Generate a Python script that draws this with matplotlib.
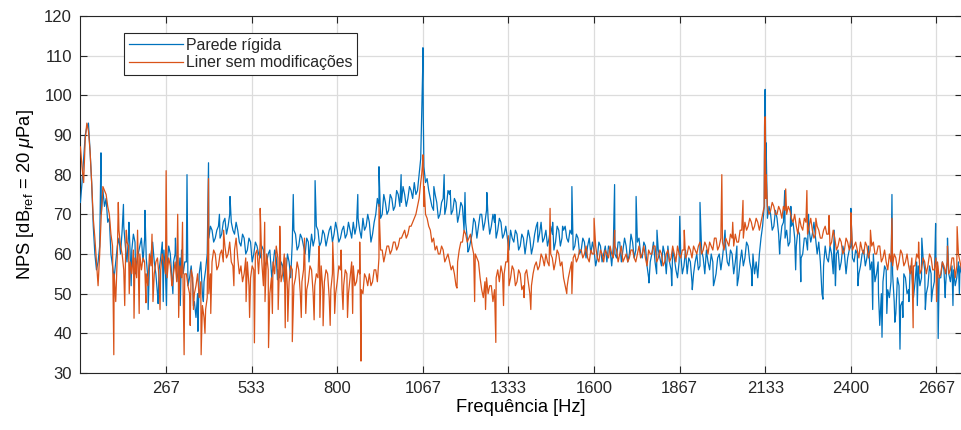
import numpy as np
import matplotlib
matplotlib.use("Agg")
import matplotlib.pyplot as plt

# ── Palette / style (MATLAB-like) ─────────────────────────────────────────────
BLUE  = "#0072BD"
RED   = "#D95319"
AXCOL = "#262626"
GRIDC = "#dcdcdc"

plt.rcParams.update({
    "font.family": ["Liberation Sans", "DejaVu Sans"],
    "mathtext.fontset": "custom",
    "mathtext.rm": "Liberation Sans",
    "mathtext.it": "Liberation Sans:italic",
    "text.color": AXCOL,
    "axes.edgecolor": AXCOL,
    "xtick.color": AXCOL,
    "ytick.color": AXCOL,
})

# ── Data (10 Hz grid, in-between 5 Hz points,
#    plus tonal peaks / deep dips) ────────────────────────────────────────────
freq_base = np.arange(0, 2750, 10)
freq_mid  = freq_base + 5

parede_base = [
    73, 84, 92, 86, 67, 56, 62, 76, 74, 69,
    57, 58, 64, 66, 62, 65, 61, 63, 60, 64,
    64, 54, 60, 58, 50, 59, 61, 57, 60, 58,
    56, 59, 55, 58, 54, 52, 44, 55, 50, 56,
    64, 66, 64, 67, 65, 69, 67, 68, 65, 66,
    62, 64, 61, 63, 60, 62, 59, 61, 58, 61,
    57, 59, 54, 57, 55, 58, 63, 65, 62, 64,
    60, 63, 65, 64, 66, 63, 65, 64, 67, 65,
    66, 64, 67, 65, 66, 68, 67, 66, 69, 67,
    68, 65, 70, 72, 70, 73, 71, 74, 72, 75,
    73, 75, 74, 76, 78, 76, 84, 82, 79, 74,
    71, 73, 70, 74, 72, 75, 71, 73, 70, 72,
    68, 61, 65, 68, 67, 70, 68, 69, 67, 68,
    66, 68, 65, 64, 66, 63, 65, 62, 64, 63,
    64, 62, 67, 65, 63, 66, 64, 65, 63, 66,
    64, 67, 63, 65, 62, 64, 61, 63, 62, 60,
    61, 59, 62, 60, 58, 61, 62, 59, 63, 61,
    62, 60, 63, 61, 64, 59, 62, 54, 60, 58,
    61, 57, 60, 62, 56, 59, 54, 60, 57, 55,
    58, 55, 60, 57, 59, 61, 56, 58, 55, 60,
    59, 62, 57, 60, 58, 54, 61, 59, 62, 56,
    55, 54, 64, 72, 69, 70, 67, 69, 63, 68,
    66, 63, 68, 62, 65, 60, 64, 66, 65, 64,
    63, 50, 62, 58, 60, 57, 61, 58, 60, 59,
    62, 58, 60, 57, 61, 59, 56, 60, 55, 42,
    53, 56, 49, 55, 45, 52, 48, 54, 51, 55,
    53, 57, 54, 56, 52, 55, 53, 57, 54, 56,
    58, 53, 56, 54, 57,
]

parede_mid = [
    78, 90, 93, 78, 60, 58, 70, 72, 68, 60,
    54, 62, 60, 67, 58, 60, 65, 58, 62, 58,
    59, 57, 63, 55, 56, 63, 55, 62, 54, 60,
    53, 61, 58, 52, 57, 48, 50, 58, 53, 60,
    67, 63, 66, 64, 68, 65, 70, 66, 68, 63,
    65, 60, 64, 58, 63, 60, 62, 57, 60, 55,
    61, 56, 58, 53, 60, 54, 66, 61, 65, 62,
    64, 61, 62, 67, 62, 66, 62, 66, 63, 68,
    63, 66, 64, 68, 64, 65, 69, 64, 66, 70,
    63, 68, 74, 69, 75, 70, 75, 71, 76, 72,
    77, 72, 77, 74, 75, 80, 102, 78, 76, 72,
    75, 69, 73, 70, 76, 70, 74, 68, 73, 66,
    64, 63, 69, 64, 70, 66, 71, 65, 70, 64,
    69, 64, 67, 61, 64, 66, 61, 65, 60, 66,
    60, 65, 63, 68, 64, 62, 67, 61, 67, 62,
    66, 64, 66, 61, 65, 60, 64, 59, 64, 63,
    57, 63, 58, 62, 62, 57, 60, 63, 58, 64,
    58, 65, 59, 63, 60, 63, 57, 58, 63, 55,
    59, 62, 55, 58, 61, 56, 58, 55, 61, 59,
    53, 58, 56, 61, 55, 58, 60, 53, 59, 56,
    63, 58, 61, 55, 62, 58, 57, 63, 58, 60,
    58, 60, 67, 84, 72, 66, 71, 65, 67, 64,
    62, 67, 64, 66, 59, 64, 61, 63, 68, 60,
    58, 57, 59, 62, 55, 60, 56, 62, 55, 61,
    59, 61, 55, 60, 57, 62, 58, 53, 58, 50,
    57, 51, 53, 48, 54, 47, 55, 50, 57, 49,
    58, 52, 59, 50, 57, 51, 58, 54, 58, 52,
    55, 57, 52, 58, 55,
]

liner_base = [
    87, 78, 93, 86, 69, 58, 60, 77, 75, 70,
    62, 48, 66, 60, 57, 62, 55, 59, 57, 56,
    58, 52, 57, 55, 59, 56, 58, 54, 57, 55,
    53, 57, 51, 55, 50, 54, 52, 49, 47, 46,
    50, 58, 60, 57, 61, 62, 60, 58, 61, 59,
    57, 55, 58, 54, 56, 61, 63, 52, 60, 50,
    58, 62, 57, 55, 59, 53, 56, 54, 56, 53,
    55, 53, 56, 52, 54, 57, 53, 55, 51, 54,
    53, 56, 52, 55, 54, 57, 53, 55, 50, 54,
    55, 53, 56, 59, 61, 60, 62, 61, 63, 62,
    64, 66, 65, 67, 69, 72, 78, 72, 69, 66,
    64, 62, 60, 61, 59, 58, 57, 52, 61, 63,
    65, 64, 62, 60, 58, 51, 53, 50, 52, 51,
    56, 57, 55, 58, 54, 56, 53, 55, 52, 56,
    50, 55, 58, 57, 59, 60, 57, 59, 58, 60,
    58, 52, 54, 58, 60, 59, 61, 60, 59, 61,
    60, 59, 61, 58, 60, 62, 59, 61, 60, 58,
    60, 59, 61, 58, 62, 60, 59, 61, 60, 62,
    59, 60, 58, 61, 59, 60, 62, 59, 61, 60,
    61, 62, 60, 63, 61, 62, 63, 61, 64, 62,
    63, 64, 62, 64, 65, 63, 66, 68, 67, 68,
    67, 68, 68, 72, 72, 71, 72, 70, 71, 72,
    70, 71, 68, 67, 69, 66, 68, 67, 66, 65,
    66, 64, 67, 65, 63, 64, 62, 63, 61, 63,
    64, 62, 61, 63, 60, 62, 61, 63, 60, 62,
    59, 58, 60, 57, 59, 58, 60, 58, 57, 59,
    57, 59, 56, 58, 57, 59, 56, 58, 55, 57,
    58, 56, 59, 57, 58,
]

liner_mid = [
    82, 89, 91, 78, 64, 52, 70, 76, 72, 65,
    55, 60, 62, 56, 63, 58, 61, 54, 60, 59,
    55, 60, 53, 58, 54, 60, 55, 59, 52, 58,
    56, 54, 55, 52, 56, 50, 55, 53, 44, 49,
    55, 61, 56, 60, 58, 59, 63, 57, 64, 55,
    53, 59, 52, 57, 60, 55, 58, 48, 56, 54,
    55, 59, 53, 60, 51, 57, 52, 58, 50, 56,
    51, 57, 50, 55, 58, 51, 56, 49, 55, 50,
    57, 51, 56, 50, 58, 52, 56, 51, 55, 52,
    52, 56, 53, 61, 58, 62, 60, 63, 61, 64,
    65, 64, 67, 68, 70, 74, 82, 70, 67, 63,
    61, 60, 62, 58, 60, 56, 55, 58, 63, 66,
    63, 65, 60, 59, 54, 49, 54, 52, 48, 54,
    53, 55, 58, 52, 57, 52, 56, 51, 55, 53,
    52, 57, 56, 60, 57, 58, 60, 56, 61, 57,
    54, 50, 56, 59, 58, 61, 59, 62, 58, 60,
    62, 58, 60, 61, 59, 60, 62, 58, 62, 59,
    58, 61, 59, 60, 59, 62, 57, 60, 62, 58,
    61, 57, 60, 58, 62, 58, 60, 61, 59, 62,
    59, 61, 62, 60, 63, 60, 62, 64, 61, 64,
    61, 63, 65, 62, 63, 66, 64, 66, 69, 66,
    69, 66, 70, 74, 70, 73, 70, 72, 69, 71,
    72, 69, 70, 65, 67, 69, 65, 69, 64, 67,
    64, 66, 65, 62, 66, 61, 64, 60, 64, 61,
    61, 63, 59, 61, 63, 59, 62, 60, 62, 58,
    61, 56, 58, 60, 56, 61, 57, 60, 55, 57,
    60, 55, 59, 55, 60, 56, 59, 54, 58, 55,
    55, 59, 54, 60, 56,
]

# tonal peaks and deep dips (Hz, dB)
parede_extra_f  = [64, 134, 151, 158, 172, 201, 211, 242, 258, 268, 288, 296,
                   311, 332, 352, 366, 383, 399, 433, 466, 596, 614, 663, 712,
                   731, 864, 930, 999, 1064, 1066, 1067, 1068, 1101, 1133, 1152,
                   1198, 1207, 1266, 1291, 1424, 1471, 1502, 1531, 1664, 1731,
                   1771, 1796, 1842, 1867, 1906, 1930, 1972, 2008, 2046, 2092,
                   2131, 2133, 2136, 2178, 2194, 2213, 2228, 2244, 2268, 2313,
                   2348, 2352, 2400, 2422, 2468, 2486, 2497, 2512, 2528, 2537,
                   2553, 2562, 2581, 2607, 2621, 2632, 2651, 2664, 2672, 2694,
                   2701, 2718, 2738]
parede_extra_db = [85.5, 72.5, 68, 52, 55, 71, 46, 47.5, 48, 47, 50, 64,
                   47, 80, 47, 40.5, 48, 83, 70, 74.5, 54, 53.5, 75, 58,
                   78.5, 75, 82, 80, 98, 106, 112, 95, 77, 80, 76,
                   75.5, 60.5, 75.5, 70, 68, 68, 67, 77, 77.5, 74.5,
                   52.7, 66, 52, 69.5, 51, 73, 52, 66, 52, 52,
                   92, 101.5, 88, 60, 76, 72, 56, 53, 70, 48.6,
                   66, 52, 71.5, 52, 46, 50, 39, 45, 75, 42.8,
                   36, 44, 48, 47, 64, 46, 48, 67.7, 38.7, 49,
                   64, 47, 50]

liner_extra_f  = [104, 118, 138, 143, 152, 167, 178, 183, 204, 223, 226, 248,
                  267, 286, 303, 306, 318, 323, 342, 352, 376, 388, 399, 406,
                  446, 478, 516, 527, 542, 560, 574, 586, 598, 616, 621, 638,
                  646, 660, 688, 698, 702, 728, 743, 746, 756, 778, 786, 792,
                  812, 818, 832, 848, 870, 874, 930, 1063, 1067, 1071, 1173,
                  1228, 1262, 1294, 1318, 1333, 1382, 1403, 1463, 1516, 1531,
                  1600, 1664, 1881, 1998, 2032, 2064, 2131, 2133, 2136, 2197,
                  2263, 2291, 2332, 2400, 2461, 2528, 2594, 2611, 2667, 2701,
                  2731]
liner_extra_db = [34.6, 73, 47, 66, 50, 43.8, 66, 45, 47.7, 65, 48, 46,
                  81, 52, 70, 44, 68, 34.6, 42, 46, 34.6, 40, 79, 45,
                  66, 52, 48, 44, 37.6, 71.5, 68, 36.4, 45, 46, 67, 41.4,
                  43, 37.9, 44, 64, 45, 43.4, 62, 44, 41.9, 42, 63, 45,
                  61, 46, 44, 45, 63, 33, 72.5, 80, 85, 77, 51.4,
                  48, 46, 37.7, 47, 64.6, 49, 46, 71.5, 51.7, 50,
                  69, 66, 66, 80, 68, 73.5, 85, 94.6, 80, 76.4,
                  76, 69, 69.7, 70.4, 66, 69, 41.4, 63, 48, 62,
                  66.9]

xtick_pos    = np.arange(1, 11) * 800 / 3
xtick_labels = ["267", "533", "800", "1067", "1333", "1600", "1867", "2133", "2400", "2667"]


def merge(parts):
    f = np.concatenate([p[0] for p in parts]).astype(float)
    v = np.concatenate([p[1] for p in parts]).astype(float)
    order = np.argsort(f, kind="stable")
    return f[order], v[order]


f_par, v_par = merge([(freq_base, parede_base), (freq_mid, parede_mid),
                      (parede_extra_f, parede_extra_db)])
f_lin, v_lin = merge([(freq_base, liner_base), (freq_mid, liner_mid),
                      (liner_extra_f, liner_extra_db)])

# ── Figure ────────────────────────────────────────────────────────────────────
fig = plt.figure(figsize=(9.62, 4.30), dpi=100)
ax = fig.add_axes([0.0836, 0.1326, 0.9160, 0.8302])

ax.plot(f_par, v_par, color=BLUE, lw=0.9, label="Parede rígida", zorder=3)
ax.plot(f_lin, v_lin, color=RED, lw=0.9, label="Liner sem modificações", zorder=4)

ax.set_xlim(0, 2745)
ax.set_ylim(30, 120)
ax.set_yticks(np.arange(30, 121, 10))
ax.set_xticks(xtick_pos)
ax.set_xticklabels(xtick_labels)

ax.grid(True, color=GRIDC, lw=0.9)
ax.set_axisbelow(True)
ax.tick_params(direction="in", top=True, right=True, length=5, width=0.8,
               labelsize=12, pad=6)
for s in ax.spines.values():
    s.set_linewidth(0.8)

ax.set_xlabel("Frequência [Hz]", fontsize=13.2, labelpad=2)
ax.set_ylabel(r"NPS [dB$_{\mathrm{ref}}$ = 20 $\mu$Pa]", fontsize=13.2, labelpad=6)

leg = ax.legend(loc="upper left", bbox_to_anchor=(0.0495, 0.952), borderaxespad=0,
                fontsize=11.4, handlelength=3.4, handletextpad=0.2,
                borderpad=0.3, labelspacing=0.15, fancybox=False, framealpha=1)
leg.get_frame().set_edgecolor(AXCOL)
leg.get_frame().set_linewidth(0.8)

fig.savefig("out.png", dpi=100)
